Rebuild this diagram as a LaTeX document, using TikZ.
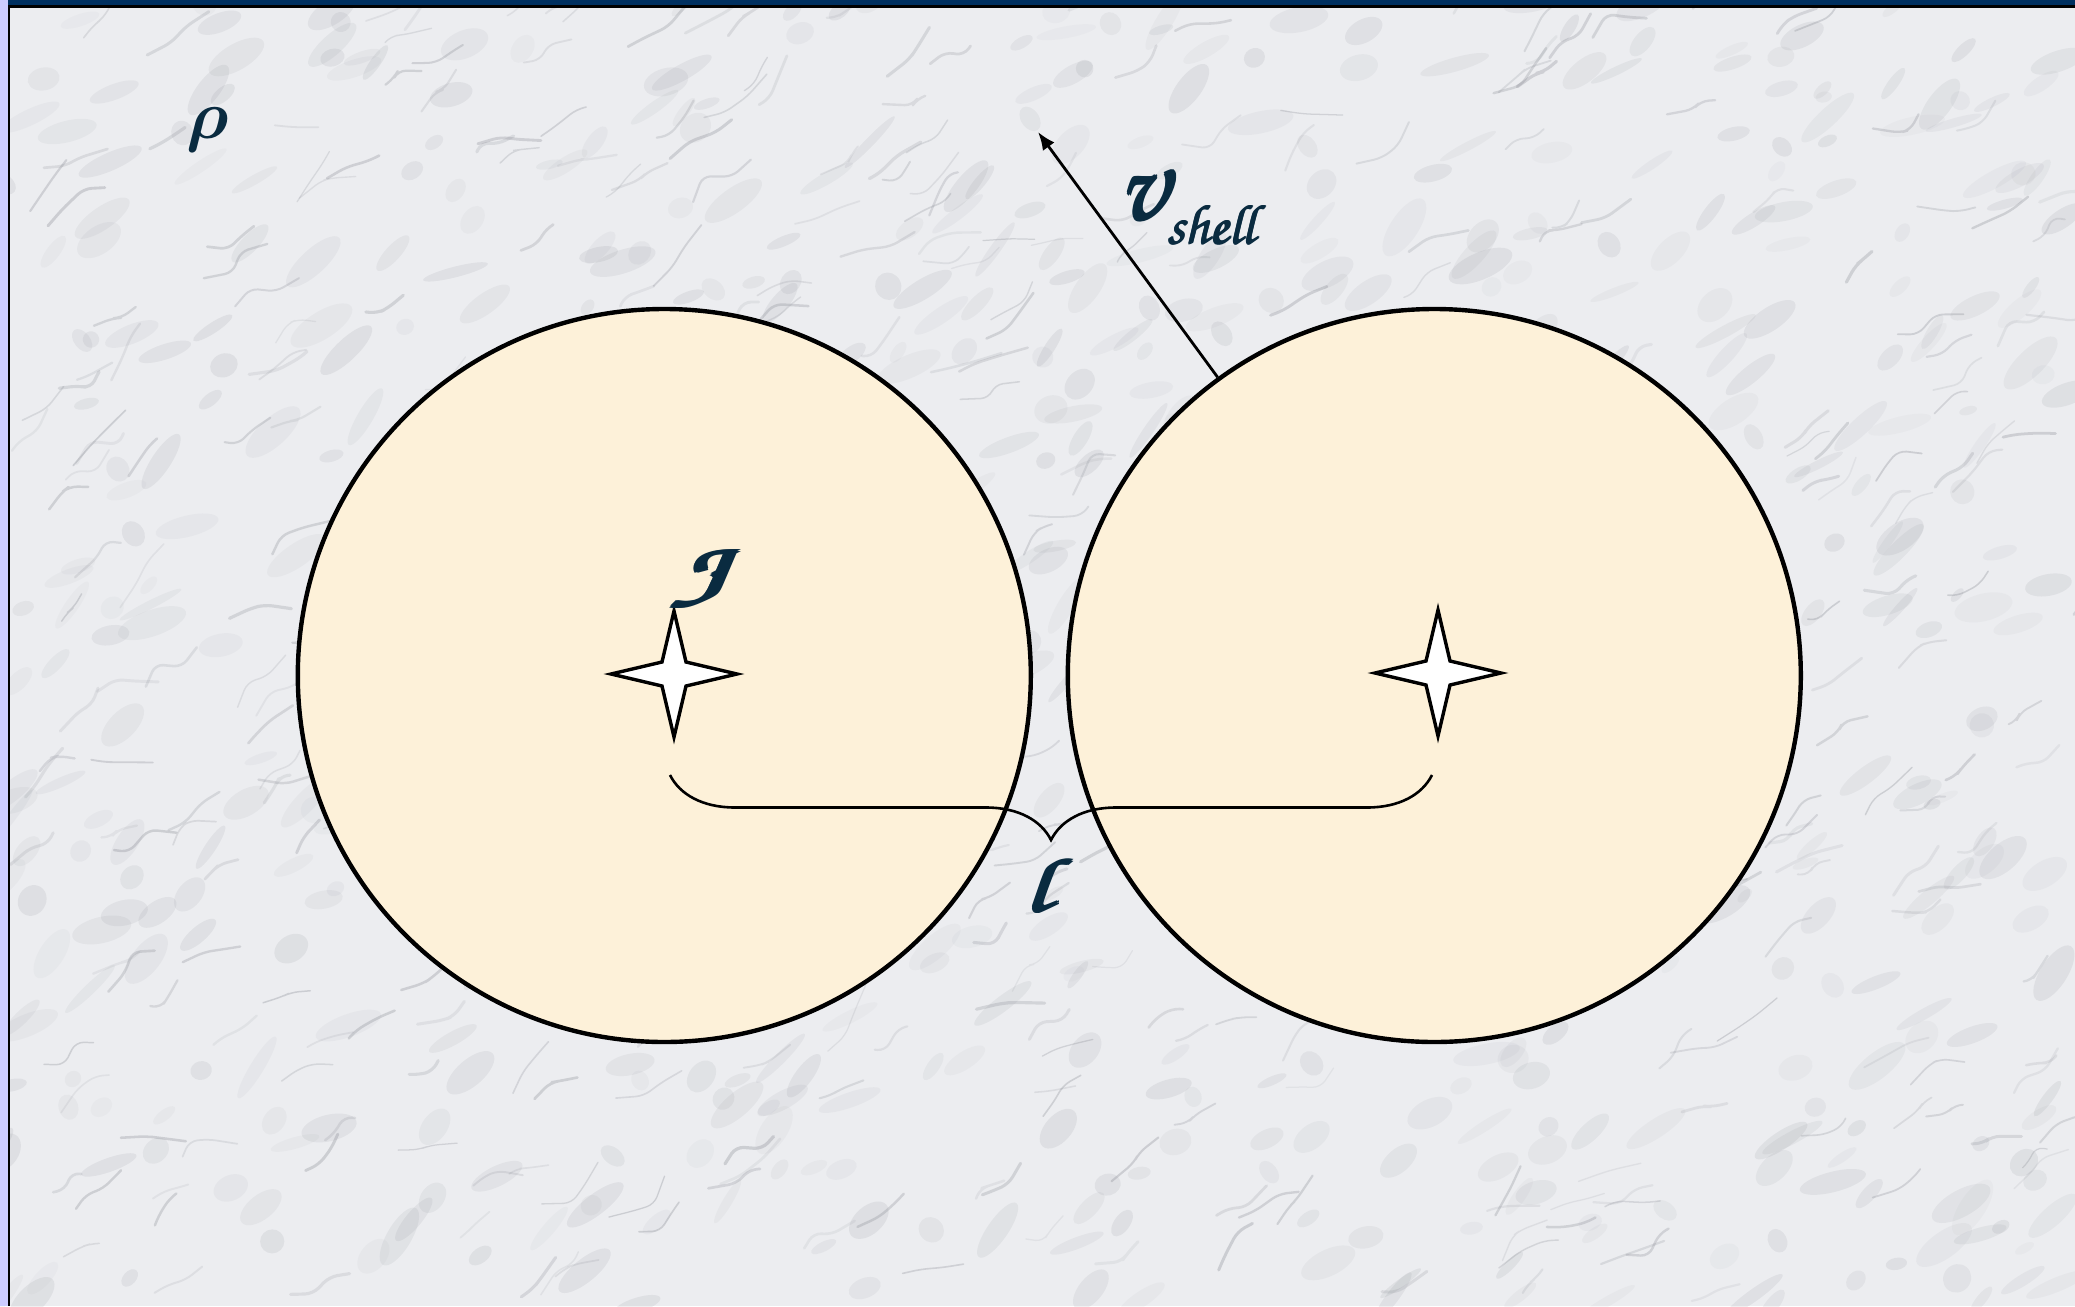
\documentclass[tikz,border=0pt]{standalone}
\usepackage{amsmath}
\usepackage{graphicx}
\usepackage[T1,TU]{fontenc}
\usetikzlibrary{decorations.pathreplacing,arrows.meta}
\newcommand\chanfont[1]{\fontencoding{T1}\fontfamily{pzc}\fontseries{mb}\fontshape{it}\fontsize{#1}{#1}\selectfont}
\newcommand\fakebold[2]{{\setbox0\hbox{#2}\copy0\kern-\wd0\kern#1\copy0\kern-\wd0\raise#1\copy0\kern-\wd0\kern-#1\raise#1\copy0}}
\definecolor{marble}{HTML}{ECEDF0}
\definecolor{vein}{HTML}{80838C}
\definecolor{cream}{HTML}{FDF1D9}
\definecolor{inkblue}{HTML}{0A2B40}
\definecolor{lavender}{HTML}{CCCCFF}
\definecolor{navyband}{HTML}{003060}
\tikzset{
  ball/.style={circle, draw=black, fill=cream, line width=1.1pt, minimum size=183.25pt, inner sep=0pt},
  starsty/.style={draw=black, fill=white, line width=0.85pt, line join=miter},
  lbl/.style={text=inkblue, inner sep=0pt},
  fourstar/.pic={\draw[starsty] (0,-63) -- (12,-12) -- (63,0) -- (12,12) -- (0,63) -- (-12,12) -- (-63,0) -- (-12,-12) -- cycle;}
}
\begin{document}
\begin{tikzpicture}[x=0.25pt,y=-0.25pt]
\useasboundingbox (0,0) rectangle (2075,1306);
% marble background
\fill[marble] (0,0) rectangle (2075,1306);
\begin{scope}
\clip (0,0) rectangle (2075,1306);
\pgfmathsetseed{11}
\foreach \i in {1,...,700}{
  \pgfmathsetmacro\xa{rnd*2075}
  \pgfmathsetmacro\ya{rnd*1306}
  \pgfmathsetmacro\rx{8+rnd*28}
  \pgfmathsetmacro\ry{4+rnd*10}
  \pgfmathsetmacro\rot{10+rnd*50}
  \pgfmathsetmacro\op{0.04+rnd*0.09}
  \fill[vein, opacity=\op, rotate around={\rot:(\xa,\ya)}] (\xa,\ya) ellipse [x radius=\rx, y radius=\ry];
}
\foreach \i in {1,...,450}{
  \pgfmathsetmacro\xa{rnd*2075}
  \pgfmathsetmacro\ya{rnd*1306}
  \pgfmathsetmacro\aa{-10+rnd*80}
  \pgfmathsetmacro\ab{-10+rnd*80}
  \pgfmathsetmacro\ac{-10+rnd*80}
  \pgfmathsetmacro\la{8+rnd*22}
  \pgfmathsetmacro\lb{8+rnd*22}
  \pgfmathsetmacro\lc{8+rnd*22}
  \pgfmathsetmacro\op{0.10+rnd*0.20}
  \pgfmathsetmacro\lw{0.3+rnd*0.5}
  \draw[vein, opacity=\op, line width=\lw pt, line cap=round, line join=round, rounded corners=2pt]
    (\xa,\ya) -- ++({\la*cos(\aa)},{-\la*sin(\aa)}) -- ++({\lb*cos(\ab)},{-\lb*sin(\ab)}) -- ++({\lc*cos(\ac)},{-\lc*sin(\ac)});
}
\end{scope}
% frame
\fill[lavender] (0,0) rectangle (7.5,1306);
\fill[black] (7.5,0) rectangle (10,1306);
\fill[navyband] (7.5,0) rectangle (2075,5);
\fill[black] (10,5) rectangle (2075,7.5);
% balls
\node[ball] (lc) at (664.3,675.5) {};
\node[ball] (rc) at (1434.3,675.5) {};
% stars
\coordinate (ls) at (674,674);
\coordinate (rs) at (1438,673);
\pic at (ls) {fourstar};
\pic at (rs) {fourstar};
% brace
\coordinate (bl) at (670,775);
\coordinate (br) at (1432,775);
\draw[decorate, decoration={brace, amplitude=16.25pt, mirror}, line width=0.65pt] (bl) -- (br);
% velocity arrow
\coordinate (vtip) at (1038,132);
\draw[line width=0.7pt, -{Latex[length=4.5pt,width=3.6pt]}] (rc.126) -- (vtip);
% labels
\node[lbl] (rho) at (207.5,130) {\fontsize{19}{19}\selectfont$\boldsymbol{\rho}$};
\node[lbl] (jlab) at (698,578.5) {\scalebox{1.85}[1.08]{\fakebold{0.3pt}{\chanfont{19}J}}};
\node[lbl] (vlab) at (1186,205) {\fakebold{0.5pt}{\chanfont{28}v}\raisebox{-6pt}{\fakebold{0.3pt}{\chanfont{14}shell}}};
\node[lbl] (ell) at (1036,885) {\scalebox{1.5}[1]{\fakebold{0.4pt}{\chanfont{19}l}}};
\end{tikzpicture}
\end{document}
